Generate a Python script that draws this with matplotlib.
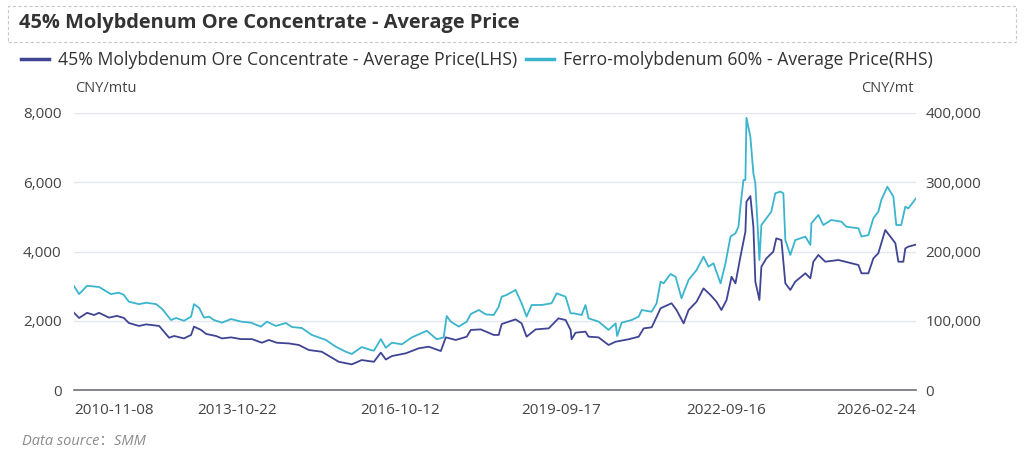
import matplotlib
matplotlib.use("Agg")
import matplotlib.pyplot as plt
from matplotlib.patches import Rectangle
from matplotlib.lines import Line2D
from matplotlib.ticker import FuncFormatter
import pandas as pd

plt.rcParams['font.family'] = ['Open Sans', 'Noto Sans CJK SC', 'DejaVu Sans']

# 45% Mo ore concentrate, CNY/mtu (LHS)
ore_dates = [
    "2010-11-08", "2010-12-12", "2011-02-03", "2011-03-21", "2011-04-23", "2011-06-28",
    "2011-08-20", "2011-10-05", "2011-11-07", "2012-01-13", "2012-03-01", "2012-05-26",
    "2012-07-31", "2012-09-02", "2012-11-07", "2012-12-24", "2013-01-12", "2013-02-28",
    "2013-04-02", "2013-06-07", "2013-07-17", "2013-09-15", "2013-11-20", "2014-02-01",
    "2014-04-08", "2014-05-24", "2014-07-16", "2014-10-04", "2014-12-09", "2015-02-13",
    "2015-05-10", "2015-08-31", "2015-11-25", "2016-01-30", "2016-04-20", "2016-06-05",
    "2016-07-08", "2016-08-17", "2016-11-18", "2017-02-12", "2017-04-19", "2017-07-08",
    "2017-08-10", "2017-10-15", "2017-12-27", "2018-01-23", "2018-03-30", "2018-06-24",
    "2018-07-27", "2018-08-16", "2018-11-16", "2018-12-26", "2019-01-28", "2019-03-29",
    "2019-06-24", "2019-08-28", "2019-10-14", "2019-11-16", "2019-11-23", "2019-12-19",
    "2020-02-23", "2020-03-14", "2020-05-20", "2020-07-25", "2020-09-10", "2020-12-05",
    "2021-02-10", "2021-03-15", "2021-05-07", "2021-05-20", "2021-07-05", "2021-09-16",
    "2021-10-19", "2021-12-05", "2022-01-07", "2022-03-01", "2022-04-16", "2022-06-01",
    "2022-07-11", "2022-08-13", "2022-09-16", "2022-10-19", "2022-11-14", "2022-12-17",
    "2023-01-19", "2023-01-26", "2023-02-21", "2023-03-13", "2023-03-26", "2023-04-22",
    "2023-05-05", "2023-06-07", "2023-07-23", "2023-08-12", "2023-09-15", "2023-10-11",
    "2023-11-13", "2023-12-16", "2024-02-21", "2024-03-25", "2024-04-14", "2024-05-17",
    "2024-07-02", "2024-09-27", "2024-11-12", "2025-02-07", "2025-02-27", "2025-04-14",
    "2025-05-17", "2025-06-19", "2025-08-04", "2025-09-07", "2025-10-10", "2025-10-30",
    "2025-12-02", "2025-12-15", "2026-01-04", "2026-02-24",
]
ore_price = [
    2230, 2080, 2230, 2165, 2230, 2090,
    2140, 2080, 1935, 1850, 1895, 1850,
    1510, 1560, 1490, 1590, 1830, 1735,
    1620, 1560, 1490, 1520, 1470, 1470,
    1365, 1445, 1365, 1345, 1300, 1155,
    1105, 815, 740, 865, 815, 1080,
    880, 980, 1060, 1205, 1250, 1125,
    1520, 1445, 1540, 1735, 1750, 1590,
    1590, 1905, 2040, 1925, 1540, 1750,
    1780, 2070, 2020, 1735, 1465, 1655,
    1685, 1540, 1520, 1300, 1395, 1465,
    1540, 1780, 1810, 1925, 2360, 2505,
    2310, 1925, 2310, 2550, 2935, 2745,
    2550, 2310, 2600, 3270, 3080, 3850,
    4570, 5440, 5600, 4715, 3130, 2600,
    3560, 3800, 3995, 4380, 4330, 3080,
    2890, 3130, 3370, 3225, 3705, 3900,
    3705, 3755, 3705, 3610, 3370, 3370,
    3800, 3950, 4620, 4430, 4240, 3705,
    3705, 4090, 4140, 4200,
]

# Ferro-molybdenum 60%, CNY/mt (RHS)
femo_dates = [
    "2010-11-08", "2010-12-12", "2011-02-03", "2011-04-23", "2011-07-11", "2011-09-02",
    "2011-10-05", "2011-11-07", "2012-01-13", "2012-03-01", "2012-05-06", "2012-06-15",
    "2012-08-13", "2012-09-15", "2012-11-07", "2012-12-24", "2013-01-12", "2013-02-15",
    "2013-03-20", "2013-04-22", "2013-05-25", "2013-07-17", "2013-09-15", "2013-11-20",
    "2014-01-25", "2014-04-01", "2014-05-11", "2014-07-09", "2014-09-14", "2014-10-23",
    "2014-12-29", "2015-03-05", "2015-06-06", "2015-08-11", "2015-10-16", "2015-11-25",
    "2016-01-30", "2016-03-30", "2016-04-20", "2016-06-05", "2016-07-08", "2016-08-17",
    "2016-10-22", "2016-12-28", "2017-04-06", "2017-06-11", "2017-07-27", "2017-08-16",
    "2017-09-12", "2017-11-04", "2017-12-27", "2018-01-23", "2018-03-17", "2018-05-02",
    "2018-06-24", "2018-07-27", "2018-08-16", "2018-09-18", "2018-11-16", "2018-12-26",
    "2019-01-28", "2019-03-03", "2019-05-08", "2019-07-13", "2019-08-15", "2019-10-14",
    "2019-11-16", "2019-12-06", "2020-01-28", "2020-02-23", "2020-03-14", "2020-05-20",
    "2020-07-25", "2020-09-10", "2020-09-20", "2020-10-20", "2020-12-25", "2021-02-10",
    "2021-03-02", "2021-05-07", "2021-06-09", "2021-07-05", "2021-07-25", "2021-09-09",
    "2021-10-13", "2021-11-21", "2022-01-07", "2022-03-01", "2022-04-16", "2022-05-19",
    "2022-06-21", "2022-08-07", "2022-09-09", "2022-10-12", "2022-11-14", "2022-12-04",
    "2022-12-17", "2023-01-06", "2023-01-19", "2023-01-26", "2023-02-21", "2023-03-13",
    "2023-03-26", "2023-04-22", "2023-05-05", "2023-06-07", "2023-07-10", "2023-08-05",
    "2023-09-08", "2023-09-28", "2023-10-11", "2023-11-13", "2023-12-16", "2024-02-21",
    "2024-03-25", "2024-04-01", "2024-05-17", "2024-06-19", "2024-08-11", "2024-10-17",
    "2024-11-19", "2025-02-07", "2025-02-27", "2025-04-14", "2025-05-17", "2025-06-19",
    "2025-07-09", "2025-08-18", "2025-09-27", "2025-10-16", "2025-11-18", "2025-12-15",
    "2026-01-04", "2026-02-24",
]
femo_price = [
    150000, 138500, 150500, 148750, 138500, 140500,
    137250, 127500, 124000, 126000, 124000, 117000,
    101000, 104000, 100000, 106000, 124000, 118500,
    104500, 106000, 101000, 97250, 102500, 98750,
    97250, 91500, 98750, 92500, 96750, 91000,
    89500, 79500, 72250, 62500, 55250, 52000,
    62000, 57750, 56750, 73500, 61000, 68250,
    66000, 76000, 85500, 73250, 76000, 106750,
    98750, 91500, 98750, 109750, 115500, 109250,
    108250, 120250, 134750, 137250, 144500, 125250,
    106000, 122750, 122750, 125250, 139500, 134750,
    110750, 110750, 108250, 122750, 103500, 98750,
    86750, 96250, 78000, 97250, 101000, 106000,
    115500, 113000, 125250, 156500, 154000, 167500,
    163500, 132500, 159000, 173250, 192500, 178000,
    183000, 154000, 183000, 221500, 226250, 235750,
    264750, 303250, 303250, 393000, 365750, 312750,
    298250, 187750, 238250, 248000, 257500, 284000,
    286500, 284000, 216500, 195000, 216500, 221500,
    209500, 240750, 252750, 238250, 245500, 243000,
    235750, 233500, 221500, 223750, 248000, 257500,
    274500, 293500, 279250, 238250, 238250, 264750,
    262250, 276750,
]

tick_dates = ["2010-11-08", "2013-10-22", "2016-10-12", "2019-09-17", "2022-09-16", "2026-02-24"]
title = "45% Molybdenum Ore Concentrate - Average Price"
ore_label = "45% Molybdenum Ore Concentrate - Average Price(LHS)"
femo_label = "Ferro-molybdenum 60% - Average Price(RHS)"

navy = "#3f4493"
cyan = "#3ab5cd"
txt = "#444444"

fig = plt.figure(figsize=(10.24, 4.72), dpi=100)
ax = fig.add_axes([74 / 1024, 82 / 472, 842 / 1024, 277 / 472])
ax2 = ax.twinx()

ax.plot(pd.to_datetime(ore_dates), ore_price, color=navy, lw=1.3, zorder=3)
ax2.plot(pd.to_datetime(femo_dates), femo_price, color=cyan, lw=1.3, zorder=3)

ax.set_xlim(pd.Timestamp(tick_dates[0]), pd.Timestamp(tick_dates[-1]))
ax.set_ylim(0, 8000)
ax2.set_ylim(0, 400000)
ax.set_yticks([0, 2000, 4000, 6000, 8000])
ax2.set_yticks([0, 100000, 200000, 300000, 400000])
fmt = FuncFormatter(lambda v, p: "{:,.0f}".format(v))
ax.yaxis.set_major_formatter(fmt)
ax2.yaxis.set_major_formatter(fmt)

ax.set_xticks(pd.to_datetime(tick_dates))
ax.set_xticklabels(tick_dates)
labs = ax.get_xticklabels()
labs[0].set_ha("left")
labs[-1].set_ha("right")

ax.grid(axis="y", color="#e3e6ee", lw=1, zorder=0)
ax.set_axisbelow(True)
for s in ["top", "left", "right"]:
    ax.spines[s].set_visible(False)
for s in ax2.spines.values():
    s.set_visible(False)
ax.spines["bottom"].set_color("#6e7079")
ax.spines["bottom"].set_linewidth(1.2)

ax.tick_params(axis="x", length=0, pad=9, labelsize=11, colors=txt)
ax.tick_params(axis="y", length=0, pad=9, labelsize=11, colors=txt)
ax2.tick_params(axis="y", length=0, pad=7, labelsize=11, colors=txt)

fig.text(75 / 1024, 1 - 88 / 472, "CNY/mtu", fontsize=10.5, color=txt, va="center", ha="left")
fig.text(914 / 1024, 1 - 88 / 472, "CNY/mt", fontsize=10.5, color=txt, va="center", ha="right")

fig.patches.append(Rectangle((8 / 1024, 1 - 42 / 472), 1008 / 1024, 36 / 472, transform=fig.transFigure,
                             fill=False, ec="#c8c8c8", lw=0.8, ls=(0, (3, 2))))
fig.text(19 / 1024, 1 - 23 / 472, title, fontsize=14.4, fontweight="bold", color="#333333", va="center")

handles = [Line2D([], [], color=navy, lw=2.5), Line2D([], [], color=cyan, lw=2.5)]
fig.legend(handles, [ore_label, femo_label], loc="center left", bbox_to_anchor=(14 / 1024, 1 - 60 / 472),
           ncol=2, frameon=False, fontsize=12.7, handlelength=1.6, handletextpad=0.5, columnspacing=0.5,
           labelcolor="#333333", borderaxespad=0)

fig.text(22 / 1024, 1 - 441 / 472, "Data source：SMM", fontsize=10.5, style="italic", color="#8c8c8c", va="center")

fig.savefig("out.png", dpi=100)
